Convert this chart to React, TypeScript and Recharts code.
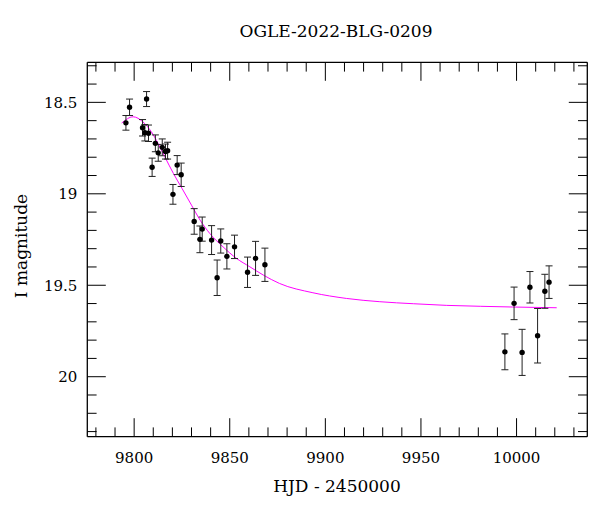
import { ComposedChart, Line, Scatter, ErrorBar, XAxis, YAxis } from "recharts";

// OGLE I-band photometry (HJD - 2450000, mag, 1-sigma error)
const hjd = [
  9795.7, 9797.6, 9806.5, 9804.4, 9805.6, 9807.5, 9809.4, 9811.1, 9812.6, 9814.7, 9816.4,
  9817.5, 9820.3, 9822.5, 9824.6, 9831.4, 9835.6, 9834.4, 9840.5, 9845.3, 9848.5, 9852.5,
  9843.4, 9859.3, 9863.5, 9868.4, 9993.9, 9998.7, 10002.9, 10007.0, 10011.0, 10014.8, 10017.0,
];
const mag = [
  18.612, 18.527, 18.482, 18.639, 18.666, 18.669, 18.855, 18.724, 18.776, 18.746, 18.769,
  18.764, 19.003, 18.843, 18.896, 19.151, 19.193, 19.249, 19.253, 19.258, 19.342, 19.29,
  19.459, 19.429, 19.353, 19.388, 19.864, 19.599, 19.867, 19.511, 19.776, 19.533, 19.483,
];
const magErr = [
  0.04, 0.045, 0.041, 0.045, 0.045, 0.045, 0.05, 0.046, 0.046, 0.046, 0.041,
  0.046, 0.054, 0.052, 0.064, 0.07, 0.066, 0.073, 0.079, 0.066, 0.069, 0.064,
  0.097, 0.083, 0.093, 0.091, 0.098, 0.089, 0.126, 0.086, 0.149, 0.093, 0.089,
];

// model light curve
const modelHjd = [
  9793.5, 9799.5, 9804.5, 9809, 9812.5, 9816, 9820.5, 9825, 9830, 9834.5, 9839.5, 9846.5,
  9853.5, 9860.5, 9867.5, 9876, 9893.5, 9911, 9928.5, 9946, 9963.5, 9981, 9998, 10021,
];
const modelMag = [
  18.613, 18.579, 18.606, 18.661, 18.724, 18.797, 18.888, 18.97, 19.062, 19.144, 19.216, 19.29,
  19.353, 19.399, 19.444, 19.49, 19.541, 19.572, 19.59, 19.601, 19.61, 19.615, 19.619, 19.623,
];

const xTicks = [
  9780, 9790, 9800, 9810, 9820, 9830, 9840, 9850, 9860, 9870, 9880, 9890, 9900, 9910, 9920,
  9930, 9940, 9950, 9960, 9970, 9980, 9990, 10000, 10010, 10020, 10030,
];
const yTicks = [18.3, 18.4, 18.5, 18.6, 18.7, 18.8, 18.9, 19, 19.1, 19.2, 19.3, 19.4, 19.5, 19.6, 19.7, 19.8, 19.9, 20, 20.1, 20.2, 20.3];

const obs = hjd.map((t, i) => ({ hjd: t, mag: mag[i], err: magErr[i] }));
const model = modelHjd.map((t, i) => ({ hjd: t, mag: modelMag[i] }));

const FONT = "'DejaVu Serif', serif";
const MAJOR = 18.5;
const MINOR = 9.3;

const isMajorX = (v: number) => v % 50 === 0;
const isMajorY = (v: number) => Math.abs(v * 2 - Math.round(v * 2)) < 1e-6;

function BottomTick({ x, y, payload }: any) {
  const major = isMajorX(payload.value);
  return (
    <g>
      <line x1={x} y1={y} x2={x} y2={y - (major ? MAJOR : MINOR)} stroke="#000" strokeWidth={1} />
      {major && (
        <text x={x} y={y + 26} textAnchor="middle" fontFamily={FONT} fontSize={15} fill="#000">
          {payload.value}
        </text>
      )}
    </g>
  );
}

function TopTick({ x, y, payload }: any) {
  const major = isMajorX(payload.value);
  return <line x1={x} y1={y} x2={x} y2={y + (major ? MAJOR : MINOR)} stroke="#000" strokeWidth={1} />;
}

function LeftTick({ x, y, payload }: any) {
  const major = isMajorY(payload.value);
  return (
    <g>
      <line x1={x} y1={y} x2={x + (major ? MAJOR : MINOR)} y2={y} stroke="#000" strokeWidth={1} />
      {major && (
        <text x={x - 10} y={y + 5.5} textAnchor="end" fontFamily={FONT} fontSize={15} fill="#000">
          {payload.value}
        </text>
      )}
    </g>
  );
}

function RightTick({ x, y, payload }: any) {
  const major = isMajorY(payload.value);
  return <line x1={x} y1={y} x2={x - (major ? MAJOR : MINOR)} y2={y} stroke="#000" strokeWidth={1} />;
}

const Dot = (props: any) => <circle cx={props.cx} cy={props.cy} r={2.7} fill="#000" />;

export default function App() {
  const xDomain = [9775.5, 10037];
  const yDomain = [18.281, 20.328];
  return (
    <div style={{ position: "absolute", left: 0, top: 0, width: 600, height: 512, background: "#fff" }}>
      <ComposedChart
        width={600}
        height={512}
        margin={{ top: 42.3, right: 2.7, bottom: 45.3, left: 37.3 }}
      >
        <XAxis
          xAxisId="bottom"
          dataKey="hjd"
          type="number"
          domain={xDomain}
          allowDataOverflow
          ticks={xTicks}
          interval={0}
          height={30}
          tickSize={0}
          tickMargin={0}
          tick={<BottomTick />}
          axisLine={{ stroke: "#000", strokeWidth: 1.3 }}
        />
        <XAxis
          xAxisId="top"
          orientation="top"
          dataKey="hjd"
          type="number"
          domain={xDomain}
          allowDataOverflow
          ticks={xTicks}
          interval={0}
          height={20}
          tickSize={0}
          tickMargin={0}
          tick={<TopTick />}
          axisLine={{ stroke: "#000", strokeWidth: 1.3 }}
        />
        <YAxis
          yAxisId="left"
          type="number"
          reversed
          domain={yDomain}
          allowDataOverflow
          ticks={yTicks}
          interval={0}
          width={50}
          tickSize={0}
          tickMargin={0}
          tick={<LeftTick />}
          axisLine={{ stroke: "#000", strokeWidth: 1.3 }}
        />
        <YAxis
          yAxisId="right"
          orientation="right"
          type="number"
          reversed
          domain={yDomain}
          allowDataOverflow
          ticks={yTicks}
          interval={0}
          width={10}
          tickSize={0}
          tickMargin={0}
          tick={<RightTick />}
          axisLine={{ stroke: "#000", strokeWidth: 1.3 }}
        />
        <Line
          xAxisId="bottom"
          yAxisId="left"
          data={model}
          dataKey="mag"
          type="monotone"
          stroke="#ff00ff"
          strokeWidth={1}
          dot={false}
          activeDot={false}
          isAnimationActive={false}
        />
        <Scatter
          xAxisId="bottom"
          yAxisId="left"
          data={obs}
          dataKey="mag"
          shape={<Dot />}
          isAnimationActive={false}
        >
          <ErrorBar dataKey="err" direction="y" width={3.5} stroke="#222" strokeWidth={1} isAnimationActive={false} />
        </Scatter>
      </ComposedChart>
      <svg width={600} height={512} style={{ position: "absolute", left: 0, top: 0, pointerEvents: "none" }}>
        <text x={336} y={37} textAnchor="middle" fontFamily={FONT} fontSize={17} fill="#000">
          OGLE-2022-BLG-0209
        </text>
        <text x={337} y={492} textAnchor="middle" fontFamily={FONT} fontSize={17} fill="#000">
          HJD - 2450000
        </text>
        <text
          x={0}
          y={0}
          transform="translate(27,246) rotate(-90)"
          textAnchor="middle"
          fontFamily={FONT}
          fontSize={17}
          fill="#000"
        >
          I magnitude
        </text>
      </svg>
    </div>
  );
}
